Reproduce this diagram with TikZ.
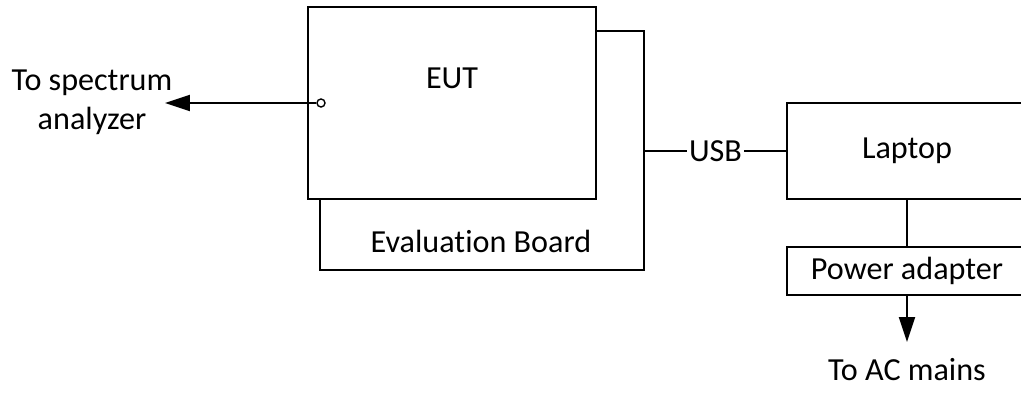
\documentclass[tikz,border=0pt]{standalone}
\usepackage{fontspec}
\setmainfont[Ligatures=NoCommon]{Carlito}
\usetikzlibrary{arrows.meta, positioning}

\begin{document}
\begin{tikzpicture}[x=0.02cm, y=-0.02cm, line width=1.1pt,
    blk/.style={rectangle, draw=black, fill=white, inner sep=0pt},
    lbl/.style={font=\fontsize{18.3}{22}\selectfont, text=black},
    tip/.style={-{Triangle[length=0.5cm, width=0.32cm]}}]
  \useasboundingbox (0,0) rectangle (1021,393);

  \node[blk, minimum width=6.48cm, minimum height=4.78cm] (board) at (482,150.5) {};
  \node[blk, minimum width=5.76cm, minimum height=3.84cm] (eut) at (452,103) {};
  \node[lbl] (eutlbl) at (452,78) {EUT};
  \node[lbl] (boardlbl) at (481,241) {Evaluation Board};

  \node[circle, draw=black, fill=white, line width=0.8pt, minimum size=0.16cm, inner sep=0pt] (port) at (321,103) {};
  \coordinate (sa) at (165,103);
  \node[lbl, align=center] (salbl) at (92,102) {To spectrum\\analyzer};

  \node[blk, minimum width=4.8cm, minimum height=1.92cm] (laptop) at (907,151) {};
  \node[lbl] (laptoplbl) at (907,151) {Laptop};
  \node[blk, minimum width=4.8cm, minimum height=0.96cm] (adapter) at (907,271) {};
  \node[lbl] (adapterlbl) at (907,271) {Power adapter};
  \coordinate (ac) at (907,342);
  \node[lbl] (aclbl) at (907,370) {To AC mains};

  \draw[tip] (port) -- (sa);
  \draw (board.east |- laptop.west) -- node[lbl, fill=white, inner sep=1pt] (usb) {USB} (laptop.west);
  \draw (laptop.south) -- (adapter.north);
  \draw[tip] (adapter.south) -- (ac);
\end{tikzpicture}
\end{document}
